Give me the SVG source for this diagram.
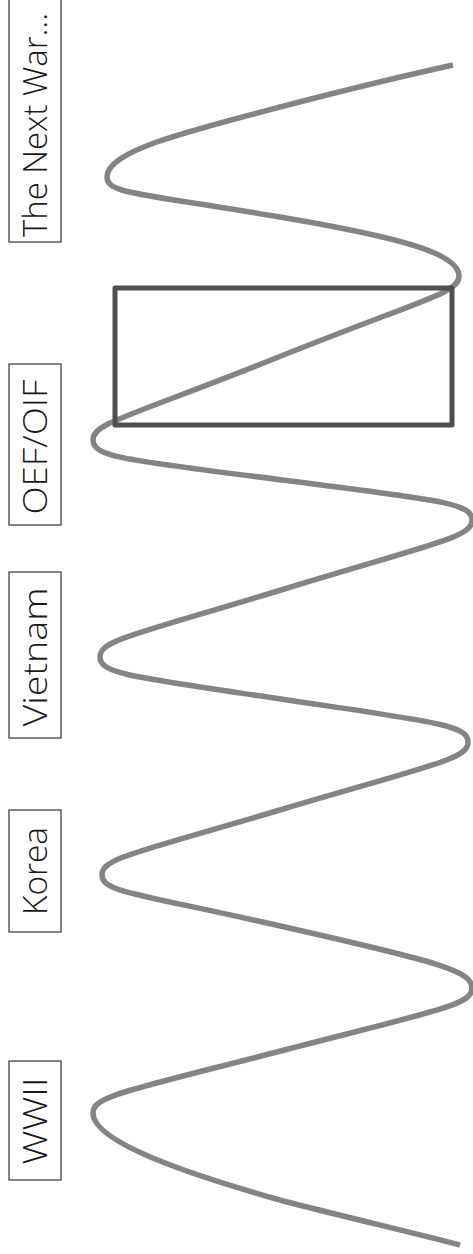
<svg xmlns="http://www.w3.org/2000/svg" width="473" height="1254" viewBox="0 0 473 1254">
<style>
.box{fill:none;stroke:#333;stroke-width:1.2}
.lbl{font-family:"Open Sans",Lato,"Noto Sans",sans-serif;font-weight:350;font-size:33px;fill:#1a1a1a;text-anchor:middle}
.wave{fill:none;stroke:#848484;stroke-width:5.5;stroke-linecap:butt;stroke-linejoin:round}
.focus{fill:none;stroke:#4f4f4f;stroke-width:5;stroke-linejoin:round}
</style>
<rect width="473" height="1254" fill="#fff"/>
<g id="connectors">
<path class="wave" d="M453,65 C403,76 330,94 280,107 C180,133 107,151.8 107,177 C107,194 140,193.2 280,217 C400,237.4 459,253.4 459,276 C459,293 426,298 276,358 C126,418 93,423 93,440 C93,457 126,460 282.5,480 C439,500 472,503 472,520 C472,537 439,542 286,588.5 C133,635 100,640 100,657 C100,674 133,677 284,699.5 C435,722 468,725 468,742 C468,759 435,764 285,808.5 C135,853 102,858 102,875 C102,892 135,893 287,927.5 C439,962 472,971 472,988 C472,1005 439,1010 282.5,1050.5 C126,1091 93,1096 93,1113 C93,1143.5 200,1177.6 280,1200 C310,1208.4 430,1236.9 460,1245"/>
</g>
<g id="focus-box">
<rect class="focus" x="115" y="288" width="337" height="137"/>
</g>
<g id="node-nextwar">
<rect class="box" x="9" y="-2" width="52" height="244"/>
<text class="lbl" transform="translate(47,125) rotate(-90)" textLength="224" lengthAdjust="spacingAndGlyphs">The Next War...</text>
</g>
<g id="node-oef">
<rect class="box" x="9" y="364" width="52" height="161"/>
<text class="lbl" transform="translate(47,447) rotate(-90)" textLength="135" lengthAdjust="spacingAndGlyphs">OEF/OIF</text>
</g>
<g id="node-vietnam">
<rect class="box" x="9" y="572" width="52" height="166"/>
<text class="lbl" transform="translate(47,657) rotate(-90)" textLength="139" lengthAdjust="spacingAndGlyphs">Vietnam</text>
</g>
<g id="node-korea">
<rect class="box" x="9" y="810" width="52" height="122"/>
<text class="lbl" transform="translate(47,871) rotate(-90)" textLength="88" lengthAdjust="spacingAndGlyphs">Korea</text>
</g>
<g id="node-wwii">
<rect class="box" x="9" y="1061" width="52" height="119"/>
<text class="lbl" transform="translate(47,1121) rotate(-90)" textLength="87" lengthAdjust="spacingAndGlyphs">WWII</text>
</g>
</svg>
